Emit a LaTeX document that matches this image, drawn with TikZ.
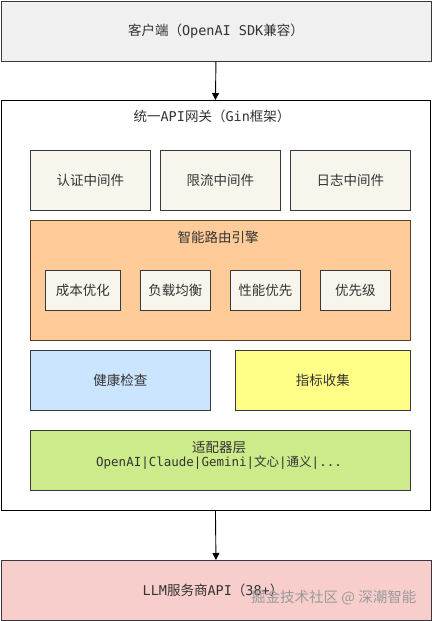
\documentclass[tikz,border=0pt]{standalone}
\usepackage{fontspec}
\setmainfont{Noto Sans CJK SC}
\setmonofont{DejaVu Sans Mono}
\usetikzlibrary{arrows.meta}
\definecolor{txt}{HTML}{333333}
\definecolor{bd}{HTML}{36393D}
\definecolor{clientfill}{HTML}{F0F0F0}
\definecolor{midfill}{HTML}{F7F5EC}
\definecolor{orangefill}{HTML}{FFCC99}
\definecolor{orangebd}{HTML}{5A3C28}
\definecolor{bluefill}{HTML}{CCE5FF}
\definecolor{yellowfill}{HTML}{FFFF88}
\definecolor{greenfill}{HTML}{CDEB8B}
\definecolor{redfill}{HTML}{F8CECC}
\definecolor{wm}{HTML}{9A9A9A}
\begin{document}
\begin{tikzpicture}[x=1pt,y=-1pt,
  box/.style={draw=bd,line width=0.9pt,anchor=north west,inner sep=0pt,text=txt,font=\fontsize{13.5}{16}\selectfont},
  flow/.style={line width=0.9pt,-{Triangle[length=7pt,width=7pt]}}]
\useasboundingbox (0,0) rectangle (431,621);
% client
\node[box,fill=clientfill,minimum width=430pt,minimum height=60pt] (client) at (0.5,0.5) {};
\node[text=txt,font=\fontsize{13.5}{16}\selectfont] (clientt) at (client.center) {客户端（\ttfamily OpenAI SDK\rmfamily 兼容）};
% gateway
\node[draw=black,fill=white,line width=0.9pt,anchor=north west,inner sep=0pt,minimum width=429pt,minimum height=410pt] (gw) at (0.5,100) {};
\node[text=txt,font=\fontsize{13.5}{16}\selectfont] (gwt) at (212,116) {统一\ttfamily API\rmfamily 网关（\ttfamily Gin\rmfamily 框架）};
% middleware
\node[box,fill=midfill,minimum width=120pt,minimum height=60pt] (auth) at (30,150) {认证中间件};
\node[box,fill=midfill,minimum width=120pt,minimum height=60pt] (rate) at (160,150) {限流中间件};
\node[box,fill=midfill,minimum width=120pt,minimum height=60pt] (log) at (290,150) {日志中间件};
% routing engine
\node[draw=orangebd,fill=orangefill,line width=0.9pt,anchor=north west,inner sep=0pt,minimum width=380pt,minimum height=120pt] (route) at (30,220) {};
\node[text=txt,font=\fontsize{13.5}{16}\selectfont] (routet) at (218,237) {智能路由引擎};
\node[box,fill=midfill,minimum width=75pt,minimum height=40pt] (cost) at (45,270) {成本优化};
\node[box,fill=midfill,minimum width=70pt,minimum height=40pt] (lb) at (140,270) {负载均衡};
\node[box,fill=midfill,minimum width=70pt,minimum height=40pt] (perf) at (230,270) {性能优先};
\node[box,fill=midfill,minimum width=70pt,minimum height=40pt] (prio) at (320,270) {优先级};
% health / metrics
\node[box,fill=bluefill,minimum width=180pt,minimum height=60pt] (health) at (30,350) {健康检查};
\node[box,fill=yellowfill,minimum width=175pt,minimum height=60pt] (metric) at (235,350) {指标收集};
% adapter
\node[box,fill=greenfill,minimum width=380pt,minimum height=60pt] (adapt) at (30,430) {};
\node[text=txt,font=\fontsize{13.5}{16}\selectfont,align=center,inner sep=0pt] (adaptt) at (219,455) {适配器层\\[-2pt]{\ttfamily\fontsize{12.5}{15}\selectfont OpenAI|Claude|Gemini|\rmfamily 文心\ttfamily |\rmfamily 通义\ttfamily |...}};
% LLM
\node[box,fill=redfill,minimum width=430pt,minimum height=60pt] (llm) at (0.5,560) {};
\node[text=txt,font=\fontsize{13.5}{16}\selectfont] (llmt) at (213,590) {\ttfamily LLM\rmfamily 服务商\ttfamily API\rmfamily （\ttfamily 38+\rmfamily ）};
\node[text=wm,font=\fontsize{14.5}{16}\selectfont,anchor=west,inner sep=0pt] (wmk) at (251,598) {掘金技术社区 @ 深潮智能};
% arrows
\draw[flow] (client.south) -- (gw.north);
\draw[flow] (gw.south) -- (llm.north);
\end{tikzpicture}
\end{document}
